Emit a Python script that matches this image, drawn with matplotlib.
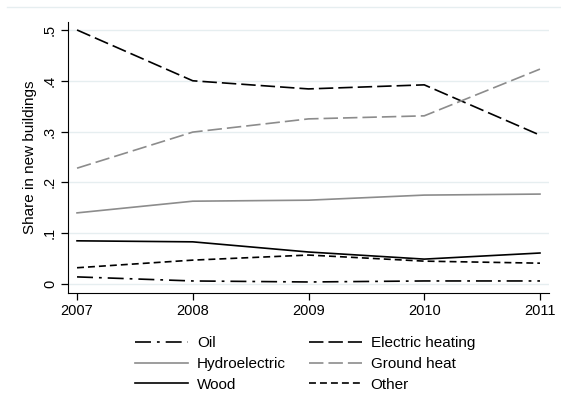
import matplotlib.pyplot as plt
from matplotlib.lines import Line2D

plt.rcParams['font.family'] = ['Liberation Sans', 'DejaVu Sans']
plt.rcParams['lines.scale_dashes'] = False

# Data
years = [2007, 2008, 2009, 2010, 2011]
oil = [0.014, 0.006, 0.004, 0.006, 0.006]
electric = [0.500, 0.400, 0.384, 0.392, 0.293]
hydro = [0.140, 0.163, 0.165, 0.175, 0.177]
ground = [0.228, 0.299, 0.325, 0.331, 0.423]
wood = [0.085, 0.083, 0.063, 0.049, 0.061]
other = [0.032, 0.047, 0.057, 0.045, 0.041]

grey = '#8c8c8c'
lw = 1.2

fig = plt.figure(figsize=(5.61, 4.0), dpi=100)
ax = fig.add_axes([68 / 561, 107 / 400, 481 / 561, 271 / 400])

l_oil, = ax.plot(years, oil, color='black', lw=lw, dashes=(11.5, 4.3, 2, 4.3))
l_ele, = ax.plot(years, electric, color='black', lw=lw, dashes=(10.4, 3.6))
l_hyd, = ax.plot(years, hydro, color=grey, lw=lw)
l_gro, = ax.plot(years, ground, color=grey, lw=lw, dashes=(10.4, 3.6))
l_woo, = ax.plot(years, wood, color='black', lw=lw)
l_oth, = ax.plot(years, other, color='black', lw=lw, dashes=(5, 2.9))

ax.set_xlim(2006.922, 2011.078)
ax.set_ylim(-0.0177, 0.5157)
ax.set_xticks(years)
ax.set_yticks([0, 0.1, 0.2, 0.3, 0.4, 0.5])
ax.set_yticklabels(['0', '.1', '.2', '.3', '.4', '.5'], rotation=90, va='center')
ax.yaxis.grid(True, color='#e6eef0', lw=1)
ax.set_axisbelow(True)
ax.spines['top'].set_visible(False)
ax.spines['right'].set_visible(False)
ax.tick_params(direction='out', length=5, width=0.9, labelsize=10.5, pad=3)
ax.set_ylabel('Share in new buildings', fontsize=11, labelpad=4)

# legend below the plot, two columns filled row by row like the original
handles = [l_oil, l_hyd, l_woo, l_ele, l_gro, l_oth]
labels = ['Oil', 'Hydroelectric', 'Wood', 'Electric heating', 'Ground heat', 'Other']
fig.legend(handles, labels, ncol=2, loc='upper left',
           bbox_to_anchor=(135 / 561, 1 - 336 / 400), borderpad=0, borderaxespad=0,
           frameon=False, fontsize=11, handlelength=3.45, columnspacing=1.5,
           labelspacing=0.45, handletextpad=0.6)

# faint outer border line at top
fig.add_artist(Line2D([7 / 561, 561 / 561], [393 / 400, 393 / 400],
                      transform=fig.transFigure, color='#e6eef0', lw=1))

fig.savefig('out.png', dpi=100)
